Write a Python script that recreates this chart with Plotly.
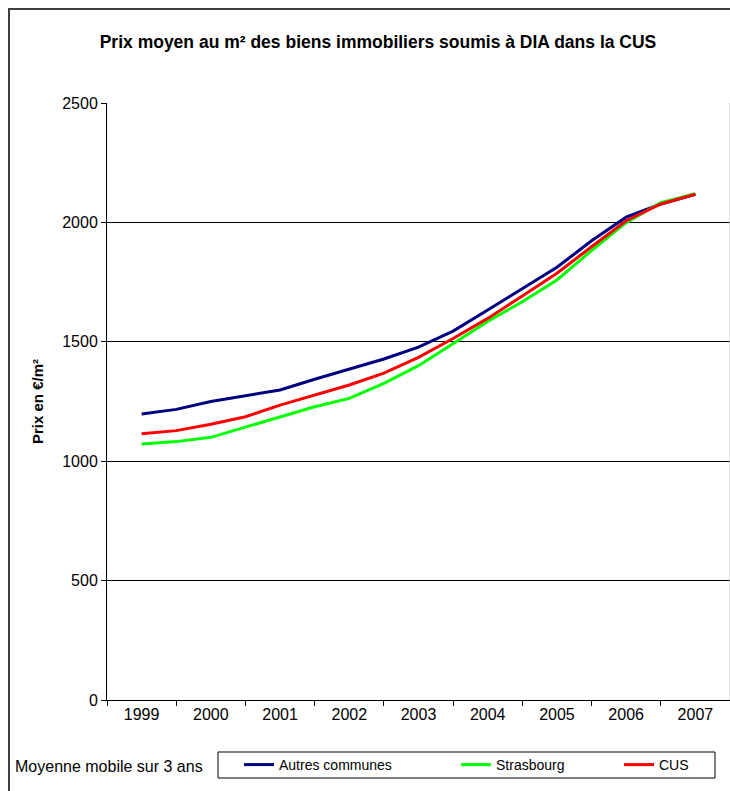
import plotly.graph_objects as go

# ---- data ----
periods = [1999, 1999.5, 2000, 2000.5, 2001, 2001.5, 2002, 2002.5, 2003, 2003.5,
           2004, 2004.5, 2005, 2005.5, 2006, 2006.5, 2007]
autres = [1198, 1217, 1250, 1273, 1298, 1343, 1385, 1428, 1478, 1545,
          1633, 1724, 1812, 1923, 2022, 2077, 2118]
strasbourg = [1072, 1082, 1100, 1142, 1186, 1228, 1263, 1326, 1400, 1492,
              1585, 1668, 1759, 1882, 1999, 2083, 2120]
cus = [1115, 1128, 1155, 1186, 1235, 1277, 1319, 1369, 1435, 1514,
       1598, 1692, 1787, 1898, 2007, 2077, 2118]
years = [1999, 2000, 2001, 2002, 2003, 2004, 2005, 2006, 2007]
year_labels = [str(y) for y in years]
y_ticks = [0, 500, 1000, 1500, 2000, 2500]

FONT = "Liberation Sans, Arial, sans-serif"
W, H = 730, 791
L, R, T, B = 107, 0, 103, 91
PW = W - L - R
PH = H - T - B


def px(x):
    return (x - L) / PW


def py(y):
    return (H - B - y) / PH


fig = go.Figure()
series = [("Autres communes", autres, "#000080", "legend"),
          ("Strasbourg", strasbourg, "#00FF00", "legend2"),
          ("CUS", cus, "#FF0000", "legend3")]
for name, vals, col, leg in series:
    fig.add_trace(go.Scatter(x=periods, y=vals, mode="lines", name=name,
                             line=dict(color=col, width=3), legend=leg))

leg_common = dict(orientation="h", bgcolor="rgba(0,0,0,0)", borderwidth=0,
                  font=dict(family=FONT, size=14, color="black"),
                  xanchor="left", yanchor="middle", xref="paper", yref="paper")

fig.update_layout(
    width=W, height=H,
    margin=dict(l=L, r=R, t=T, b=B),
    paper_bgcolor="white", plot_bgcolor="white",
    font=dict(family=FONT, size=16, color="black"),
    title=dict(text="<b>Prix moyen au m² des biens immobiliers soumis à DIA dans la CUS</b>",
               x=378 / W, xanchor="center", xref="container",
               y=1 - 42 / H, yanchor="middle", yref="container",
               font=dict(family=FONT, size=17.5, color="black")),
    legend=dict(x=px(239), y=py(765), **leg_common),
    legend2=dict(x=px(456), y=py(765), **leg_common),
    legend3=dict(x=px(619), y=py(765), **leg_common),
    showlegend=True,
    xaxis=dict(range=[1998.5, 2007.5], tickvals=years, ticktext=year_labels,
               ticks="", showgrid=False, zeroline=False,
               showline=True, linecolor="black", linewidth=1,
               tickfont=dict(family=FONT, size=16, color="black"),
               minor=dict(tickvals=[y - 0.5 for y in years] + [2007.5], ticks="outside",
                          ticklen=5, tickcolor="black", showgrid=False)),
    yaxis=dict(range=[0, 2500], tickvals=y_ticks, ticks="outside", ticklen=5,
               tickcolor="black", showgrid=True, gridcolor="black", gridwidth=1,
               zeroline=False, showline=True, linecolor="black", linewidth=1,
               tickfont=dict(family=FONT, size=16, color="black"),
               title=dict(text="<b>Prix en €/m²</b>", standoff=14,
                          font=dict(family=FONT, size=15, color="black"))),
    shapes=[
        # outer frame
        dict(type="rect", xref="paper", yref="paper",
             x0=px(9), x1=px(760), y0=py(820), y1=py(9),
             line=dict(color="#404040", width=2), fillcolor="rgba(0,0,0,0)", layer="below"),
        # right border of plot area
        dict(type="line", xref="paper", yref="paper", x0=1, x1=1, y0=0, y1=1,
             line=dict(color="#c0c0c0", width=1)),
        # legend box
        dict(type="rect", xref="paper", yref="paper",
             x0=px(218), x1=px(715), y0=py(778), y1=py(752),
             line=dict(color="black", width=1), fillcolor="rgba(0,0,0,0)"),
    ],
    annotations=[
        dict(text="Moyenne mobile sur 3 ans", xref="paper", yref="paper",
             x=px(13), y=py(766), xanchor="left", yanchor="middle", showarrow=False,
             font=dict(family=FONT, size=16, color="black")),
    ],
)

fig.write_html("out.html")
